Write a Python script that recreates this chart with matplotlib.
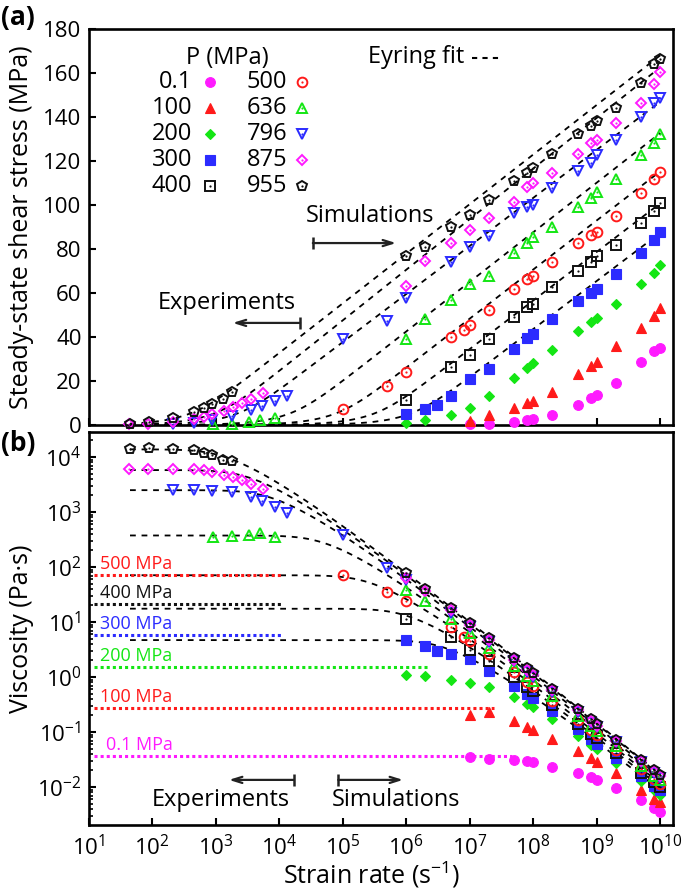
import numpy as np
import matplotlib
matplotlib.use("Agg")
import matplotlib.pyplot as plt
from matplotlib.ticker import FixedLocator, NullFormatter, NullLocator, MultipleLocator

plt.rcParams['font.family'] = ['Open Sans', 'DejaVu Sans']
plt.rcParams['mathtext.default'] = 'regular'

MAGENTA = '#ff1aff'
RED = '#ff1a1a'
GREEN = '#14e614'
BLUE = '#2b2bff'
BLACK = '#111111'

# pressure series (MPa) and their symbols
PRESSURES = ['0.1', '100', '200', '300', '400', '500', '636', '796', '875', '955']
MARKERS = ['o', '^', 'D', 's', 's', 'o', '^', 'v', 'D', 'p']
FILLED = [True, True, True, True, False, False, False, False, False, False]
COLORS = [MAGENTA, RED, GREEN, BLUE, BLACK, RED, GREEN, BLUE, MAGENTA, BLACK]
MSIZE = [7, 6.5, 4.6, 6.5, 6.5, 7, 6.5, 6.5, 5.6, 7.5]

# simulation strain rates (1/s)
RATE_HI = [1e7, 2e7, 5e7, 8e7, 1e8, 2e8, 5e8, 8e8, 1e9, 2e9, 5e9, 8e9, 1e10]
rate_p01 = RATE_HI
rate_p100 = RATE_HI
rate_p200 = [1e6, 2e6, 5e6] + RATE_HI
rate_p300 = [1e6, 2e6, 3e6, 5e6] + RATE_HI
rate_p400 = [1e6, 5e6] + RATE_HI
rate_p500 = [1e5, 5e5, 1e6, 5e6, 8e6] + RATE_HI
rate_p636 = [1e6, 2e6, 5e6] + RATE_HI
rate_p796 = [1e5, 5e5, 1e6, 5e6] + RATE_HI
rate_p875 = [1e6, 2e6, 5e6] + RATE_HI
rate_p955 = [1e6, 2e6, 5e6] + RATE_HI

# simulated steady-state shear stress (MPa)
tau_p01 = [0.35, 0.65, 1.55, 2.36, 2.8, 4.7, 9.0, 12.2, 13.6, 19.3, 28.5, 33.5, 34.8]
tau_p100 = [2.0, 4.6, 7.8, 10.0, 11.0, 15.0, 23.0, 27.0, 28.5, 36.0, 44.0, 49.5, 53.0]
tau_p200 = [1.1, 2.1, 4.5, 7.9, 13.0, 21.5, 25.8, 28.0, 34.0, 42.6, 46.7, 48.6, 55.1, 64.2, 69.3, 72.8]
tau_p300 = [4.8, 7.2, 9.1, 13.2, 21.0, 25.5, 34.6, 39.6, 41.5, 48.2, 56.2, 60.0, 61.8, 68.7, 78.4, 84.1, 87.9]
tau_p400 = [11.3, 26.4, 31.6, 39.1, 49.1, 53.5, 55.1, 62.7, 69.8, 73.9, 76.6, 81.9, 91.7, 97.4, 101.0]
tau_p500 = [7.1, 17.7, 24.0, 40.0, 43.4, 45.6, 52.4, 61.8, 66.3, 67.8, 73.9, 82.6, 86.4, 87.9, 95.0, 105.6, 111.6, 115.1]
tau_p636 = [39.0, 48.0, 57.0, 64.0, 67.8, 78.4, 82.6, 85.6, 90.0, 99.0, 103.0, 106.0, 112.0, 122.7, 128.0, 132.2]
tau_p796 = [39.0, 47.4, 57.7, 73.9, 81.0, 86.0, 96.2, 99.0, 100.0, 107.6, 115.6, 119.0, 122.7, 129.5, 140.0, 146.5, 148.8]
tau_p875 = [63.0, 74.6, 82.6, 88.7, 94.0, 101.5, 108.0, 109.8, 114.6, 123.4, 128.0, 129.5, 137.4, 146.5, 155.0, 160.5]
tau_p955 = [76.6, 80.8, 90.2, 95.5, 102.3, 111.0, 114.4, 116.6, 123.1, 132.2, 136.0, 138.0, 144.0, 155.4, 164.0, 166.3]

SIM_RATES = [rate_p01, rate_p100, rate_p200, rate_p300, rate_p400,
             rate_p500, rate_p636, rate_p796, rate_p875, rate_p955]
SIM_TAU = [tau_p01, tau_p100, tau_p200, tau_p300, tau_p400,
           tau_p500, tau_p636, tau_p796, tau_p875, tau_p955]

# experiments: strain rate (1/s) and viscosity (Pa s)
rate_exp_636 = [900, 1800, 3300, 5000, 8700]
eta_exp_636 = [355, 363, 380, 417, 355]
rate_exp_796 = [215, 450, 890, 1800, 3600, 5400, 8700, 13500]
eta_exp_796 = [2510, 2510, 2450, 2340, 1860, 1620, 1230, 980]
rate_exp_875 = [44, 87, 215, 450, 660, 890, 1380, 1900, 2650, 3600, 5500]
eta_exp_875 = [6030, 6030, 6030, 6030, 5750, 5370, 4680, 4270, 3800, 3240, 2630]
rate_exp_955 = [45, 88, 215, 450, 660, 890, 1320, 1800]
eta_exp_955 = [13800, 14450, 13800, 13490, 12020, 10960, 8910, 8320]

EXP = {6: (rate_exp_636, eta_exp_636), 7: (rate_exp_796, eta_exp_796),
       8: (rate_exp_875, eta_exp_875), 9: (rate_exp_955, eta_exp_955)}

# Eyring fit parameters
fit_eta0 = [1.38e4, 5.8e3, 2.5e3, 375, 71, 17.5, 4.7]     # Pa s
fit_tauE = [9.8, 10.0, 9.5, 9.8, 9.7, 9.6, 9.5]            # MPa

# measured low-shear viscosities (dotted lines in b)
dot_labels = ['500 MPa', '400 MPa', '300 MPa', '200 MPa', '100 MPa', '0.1 MPa']
dot_eta = [71, 21, 5.8, 1.5, 0.27, 0.036]
dot_end = [1.1e4, 1.1e4, 1.1e4, 2.3e6, 2.4e7, 4.6e7]
dot_colors = [RED, BLACK, BLUE, GREEN, RED, MAGENTA]

X_DECADES = [10.0 ** k for k in range(1, 11)]
Y_DECADES = [10.0 ** k for k in range(-2, 5)]
Y_MINOR = [m * 10.0 ** k for k in range(-3, 5) for m in range(2, 10)
           if 10 ** -2.69 < m * 10.0 ** k < 10 ** 4.455]


def draw_points(ax, x, y, i):
    c = COLORS[i]
    if FILLED[i]:
        ax.plot(x, y, ls='none', marker=MARKERS[i], ms=MSIZE[i], mfc=c, mec=c,
                mew=0.8, clip_on=False, zorder=3)
    else:
        ax.plot(x, y, ls='none', marker=MARKERS[i], ms=MSIZE[i], mfc='none', mec=c,
                mew=1.4, clip_on=False, zorder=3)
        ax.plot(x, y, ls='none', marker='o', ms=1.6, mfc=c, mec=c, mew=0,
                clip_on=False, zorder=3)


fig = plt.figure(figsize=(6.85, 8.92), dpi=100)
W, H = 685, 892
ax1 = fig.add_axes([88.5 / W, 1 - 425 / H, 584 / W, 396 / H])
ax2 = fig.add_axes([88.5 / W, 1 - 825 / H, 584 / W, 393 / H])

# fits
fit_rate = np.logspace(np.log10(45), 10, 400)
for eta0, tauE in zip(fit_eta0, fit_tauE):
    tau = tauE * np.arcsinh(eta0 * fit_rate / (tauE * 1e6))
    ax1.plot(fit_rate, tau, color='k', lw=1.3, ls=(0, (3.2, 3.2)), zorder=2)
    ax2.plot(fit_rate, tau * 1e6 / fit_rate, color='k', lw=1.3, ls=(0, (3.2, 3.2)), zorder=2)

# dotted experimental levels
for lab, eta, end, c in zip(dot_labels, dot_eta, dot_end, dot_colors):
    ax2.plot([12, end], [eta, eta], color=c, lw=2.2, ls=(0, (1, 1)), zorder=2)
    x0 = 19 if lab == '0.1 MPa' else 15
    ax2.text(x0, eta * 1.09, lab, color=c, fontsize=13, ha='left', va='bottom')

# data points
for i in range(len(PRESSURES)):
    if i in EXP:
        r, eta = EXP[i]
        r = np.array(r, float)
        eta = np.array(eta, float)
        draw_points(ax1, r, eta * r / 1e6, i)
        draw_points(ax2, r, eta, i)
    r = np.array(SIM_RATES[i], float)
    tau = np.array(SIM_TAU[i], float)
    draw_points(ax1, r, tau, i)
    draw_points(ax2, r, tau * 1e6 / r, i)

# axes styling
for ax in (ax1, ax2):
    ax.set_xscale('log')
    ax.set_xlim(10, 10 ** 10.19)
    ax.xaxis.set_major_locator(FixedLocator(X_DECADES))
    ax.xaxis.set_minor_locator(NullLocator())
    for s in ax.spines.values():
        s.set_linewidth(1.9)
    ax.tick_params(which='both', direction='in', top=False, right=False, labelsize=16)
    ax.tick_params(which='major', length=5, width=1.5)
    ax.tick_params(which='minor', length=3, width=1.2)
    ax.tick_params(axis='y', pad=5)
    ax.tick_params(axis='x', pad=7)

ax1.set_ylim(0, 180)
ax1.yaxis.set_major_locator(MultipleLocator(20))
ax1.tick_params(axis='x', labelbottom=False)
ax1.set_ylabel('Steady-state shear stress (MPa)', fontsize=18)
ax1.yaxis.set_label_coords((34 - 88.5) / 584, 0.5)

ax2.set_yscale('log')
ax2.set_ylim(10 ** -2.69, 10 ** 4.455)
ax2.yaxis.set_major_locator(FixedLocator(Y_DECADES))
ax2.yaxis.set_minor_locator(FixedLocator(Y_MINOR))
ax2.yaxis.set_minor_formatter(NullFormatter())
ax2.set_ylabel('Viscosity (Pa·s)', fontsize=18)
ax2.yaxis.set_label_coords((34 - 88.5) / 584, 0.5)
ax2.set_xlabel('Strain rate (s$^{-1}$)', fontsize=18)
ax2.xaxis.set_label_coords(0.485, (825 - 860) / 393)


# legend block in panel (a)
def fx(px):
    return (px - 88.5) / 584


def fy(py):
    return (425 - py) / 396


ax1.text(fx(186), fy(58), 'P (MPa)', transform=ax1.transAxes, fontsize=17,
         ha='left', va='center')
rows = [82, 108, 134, 160, 186]
for i, lab in enumerate(PRESSURES):
    col, row = divmod(i, 5)
    tx = fx(192 if col == 0 else 287)
    mx = fx(210 if col == 0 else 302)
    ax1.text(tx, fy(rows[row]), lab, transform=ax1.transAxes, fontsize=17,
             ha='right', va='center')
    draw_points(ax1, [mx], [fy(rows[row])], i)
    ax1.lines[-1].set_transform(ax1.transAxes)
    if not FILLED[i]:
        ax1.lines[-2].set_transform(ax1.transAxes)

ax1.text(fx(368), fy(57), 'Eyring fit', transform=ax1.transAxes, fontsize=17,
         ha='left', va='center')
ax1.plot([fx(472), fx(499)], [fy(58), fy(58)], transform=ax1.transAxes,
         color='k', lw=1.5, ls=(0, (2.5, 2.5)))


def bar_arrow(ax, x_bar, x_head, y):
    ax.annotate('', xy=(x_head, y), xytext=(x_bar, y),
                arrowprops=dict(arrowstyle='->,head_length=0.7,head_width=0.22',
                                color='#222222', lw=1.6, shrinkA=0, shrinkB=0))
    ax.plot([x_bar], [y], marker='|', ms=9, mew=1.8, color='#222222')


ax1.text(10 ** 4.42, 95, 'Simulations', fontsize=17, ha='left', va='center')
bar_arrow(ax1, 10 ** 4.53, 10 ** 5.84, 82.7)
ax1.text(10 ** 2.09, 55.5, 'Experiments', fontsize=17, ha='left', va='center')
bar_arrow(ax1, 10 ** 4.33, 10 ** 3.27, 46.4)

ax2.text(10 ** 2.0, 10 ** -2.24, 'Experiments', fontsize=17, ha='left', va='center')
bar_arrow(ax2, 10 ** 4.23, 10 ** 3.21, 10 ** -1.87)
ax2.text(10 ** 4.83, 10 ** -2.24, 'Simulations', fontsize=17, ha='left', va='center')
bar_arrow(ax2, 10 ** 4.93, 10 ** 5.95, 10 ** -1.87)

fig.text(1 / W, 1 - 17 / H, '(a)', fontsize=19, fontweight='bold', ha='left', va='center')
fig.text(1 / W, 1 - 443 / H, '(b)', fontsize=19, fontweight='bold', ha='left', va='center')

fig.savefig('out.png', dpi=100)
